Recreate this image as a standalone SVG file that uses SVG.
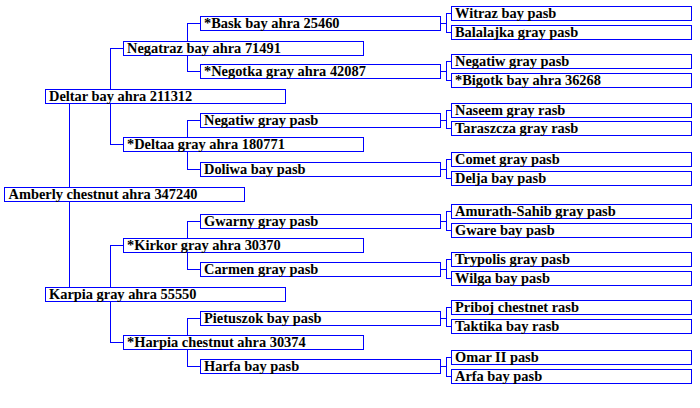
<svg xmlns="http://www.w3.org/2000/svg" width="700" height="408" viewBox="0 0 700 408">
<style>
.b{fill:#ffffff;stroke:#0000ff;stroke-width:1}
.c{fill:none;stroke:#0000ff;stroke-width:1}
text{font-family:"Liberation Serif","Times New Roman",serif;font-weight:bold;font-size:14.4px;fill:#000000}
</style>
<rect x="0" y="0" width="700" height="408" fill="#ffffff"/>
<g id="connectors" class="c" shape-rendering="crispEdges">
<path d="M69.5,103.5V187.5M69.5,201.5V287.5"/>
<path d="M110.5,89.5V48.5H123.5M110.5,103.5V144.5H123.5"/>
<path d="M110.5,287.5V245.5H123.5M110.5,301.5V342.5H123.5"/>
<path d="M187.5,41.5V23.5H200.5M187.5,55.5V71.5H200.5"/>
<path d="M187.5,137.5V120.5H200.5M187.5,151.5V169.5H200.5"/>
<path d="M187.5,238.5V221.5H200.5M187.5,252.5V269.5H200.5"/>
<path d="M187.5,335.5V318.5H200.5M187.5,349.5V366.5H200.5"/>
<path d="M440.5,23.5H446.5M451.5,13.5H446.5V32.5H451.5"/>
<path d="M440.5,71.5H446.5M451.5,61.5H446.5V80.5H451.5"/>
<path d="M440.5,120.5H446.5M451.5,110.5H446.5V128.5H451.5"/>
<path d="M440.5,169.5H446.5M451.5,159.5H446.5V178.5H451.5"/>
<path d="M440.5,221.5H446.5M451.5,211.5H446.5V230.5H451.5"/>
<path d="M440.5,269.5H446.5M451.5,259.5H446.5V278.5H451.5"/>
<path d="M440.5,318.5H446.5M451.5,307.5H446.5V326.5H451.5"/>
<path d="M440.5,366.5H446.5M451.5,357.5H446.5V376.5H451.5"/>
</g>
<g id="n-amberly"><rect class="b" x="4.5" y="187.5" width="240" height="14" shape-rendering="crispEdges"/><text x="8.5" y="199">Amberly chestnut ahra 347240</text></g>
<g id="n-deltar"><rect class="b" x="45.5" y="89.5" width="240" height="14" shape-rendering="crispEdges"/><text x="49" y="101">Deltar bay ahra 211312</text></g>
<g id="n-karpia"><rect class="b" x="45.5" y="287.5" width="240" height="14" shape-rendering="crispEdges"/><text x="49" y="299">Karpia gray ahra 55550</text></g>
<g id="n-negatraz"><rect class="b" x="123.5" y="41.5" width="240" height="14" shape-rendering="crispEdges"/><text x="127" y="53">Negatraz bay ahra 71491</text></g>
<g id="n-deltaa"><rect class="b" x="123.5" y="137.5" width="240" height="14" shape-rendering="crispEdges"/><text x="127" y="149">*Deltaa gray ahra 180771</text></g>
<g id="n-kirkor"><rect class="b" x="123.5" y="238.5" width="240" height="14" shape-rendering="crispEdges"/><text x="127" y="250">*Kirkor gray ahra 30370</text></g>
<g id="n-harpia"><rect class="b" x="123.5" y="335.5" width="240" height="14" shape-rendering="crispEdges"/><text x="127" y="347">*Harpia chestnut ahra 30374</text></g>
<g id="n-bask"><rect class="b" x="200.5" y="16.5" width="240" height="14" shape-rendering="crispEdges"/><text x="204" y="28">*Bask bay ahra 25460</text></g>
<g id="n-negotka"><rect class="b" x="200.5" y="64.5" width="240" height="14" shape-rendering="crispEdges"/><text x="204" y="76">*Negotka gray ahra 42087</text></g>
<g id="n-negatiw"><rect class="b" x="200.5" y="113.5" width="240" height="14" shape-rendering="crispEdges"/><text x="204" y="125">Negatiw gray pasb</text></g>
<g id="n-doliwa"><rect class="b" x="200.5" y="162.5" width="240" height="14" shape-rendering="crispEdges"/><text x="204" y="174">Doliwa bay pasb</text></g>
<g id="n-gwarny"><rect class="b" x="200.5" y="214.5" width="240" height="14" shape-rendering="crispEdges"/><text x="204" y="226">Gwarny gray pasb</text></g>
<g id="n-carmen"><rect class="b" x="200.5" y="262.5" width="240" height="14" shape-rendering="crispEdges"/><text x="204" y="274">Carmen gray pasb</text></g>
<g id="n-pietuszok"><rect class="b" x="200.5" y="311.5" width="240" height="14" shape-rendering="crispEdges"/><text x="204" y="323">Pietuszok bay pasb</text></g>
<g id="n-harfa"><rect class="b" x="200.5" y="359.5" width="240" height="14" shape-rendering="crispEdges"/><text x="204" y="371">Harfa bay pasb</text></g>
<g id="n-witraz"><rect class="b" x="451.5" y="6.5" width="240" height="14" shape-rendering="crispEdges"/><text x="455" y="18">Witraz bay pasb</text></g>
<g id="n-balalajka"><rect class="b" x="451.5" y="25.5" width="240" height="14" shape-rendering="crispEdges"/><text x="455" y="37">Balalajka gray pasb</text></g>
<g id="n-negatiw2"><rect class="b" x="451.5" y="54.5" width="240" height="14" shape-rendering="crispEdges"/><text x="455" y="66">Negatiw gray pasb</text></g>
<g id="n-bigotk"><rect class="b" x="451.5" y="73.5" width="240" height="14" shape-rendering="crispEdges"/><text x="455" y="85">*Bigotk bay ahra 36268</text></g>
<g id="n-naseem"><rect class="b" x="451.5" y="103.5" width="240" height="14" shape-rendering="crispEdges"/><text x="455" y="115">Naseem gray rasb</text></g>
<g id="n-taraszcza"><rect class="b" x="451.5" y="121.5" width="240" height="14" shape-rendering="crispEdges"/><text x="455" y="133">Taraszcza gray rasb</text></g>
<g id="n-comet"><rect class="b" x="451.5" y="152.5" width="240" height="14" shape-rendering="crispEdges"/><text x="455" y="164">Comet gray pasb</text></g>
<g id="n-delja"><rect class="b" x="451.5" y="171.5" width="240" height="14" shape-rendering="crispEdges"/><text x="455" y="183">Delja bay pasb</text></g>
<g id="n-amurath"><rect class="b" x="451.5" y="204.5" width="240" height="14" shape-rendering="crispEdges"/><text x="455" y="216">Amurath-Sahib gray pasb</text></g>
<g id="n-gware"><rect class="b" x="451.5" y="223.5" width="240" height="14" shape-rendering="crispEdges"/><text x="455" y="235">Gware bay pasb</text></g>
<g id="n-trypolis"><rect class="b" x="451.5" y="252.5" width="240" height="14" shape-rendering="crispEdges"/><text x="455" y="264">Trypolis gray pasb</text></g>
<g id="n-wilga"><rect class="b" x="451.5" y="271.5" width="240" height="14" shape-rendering="crispEdges"/><text x="455" y="283">Wilga bay pasb</text></g>
<g id="n-priboj"><rect class="b" x="451.5" y="300.5" width="240" height="14" shape-rendering="crispEdges"/><text x="455" y="312">Priboj chestnet rasb</text></g>
<g id="n-taktika"><rect class="b" x="451.5" y="319.5" width="240" height="14" shape-rendering="crispEdges"/><text x="455" y="331">Taktika bay rasb</text></g>
<g id="n-omar"><rect class="b" x="451.5" y="350.5" width="240" height="14" shape-rendering="crispEdges"/><text x="455" y="362">Omar II pasb</text></g>
<g id="n-arfa"><rect class="b" x="451.5" y="369.5" width="240" height="14" shape-rendering="crispEdges"/><text x="455" y="381">Arfa bay pasb</text></g>
</svg>
